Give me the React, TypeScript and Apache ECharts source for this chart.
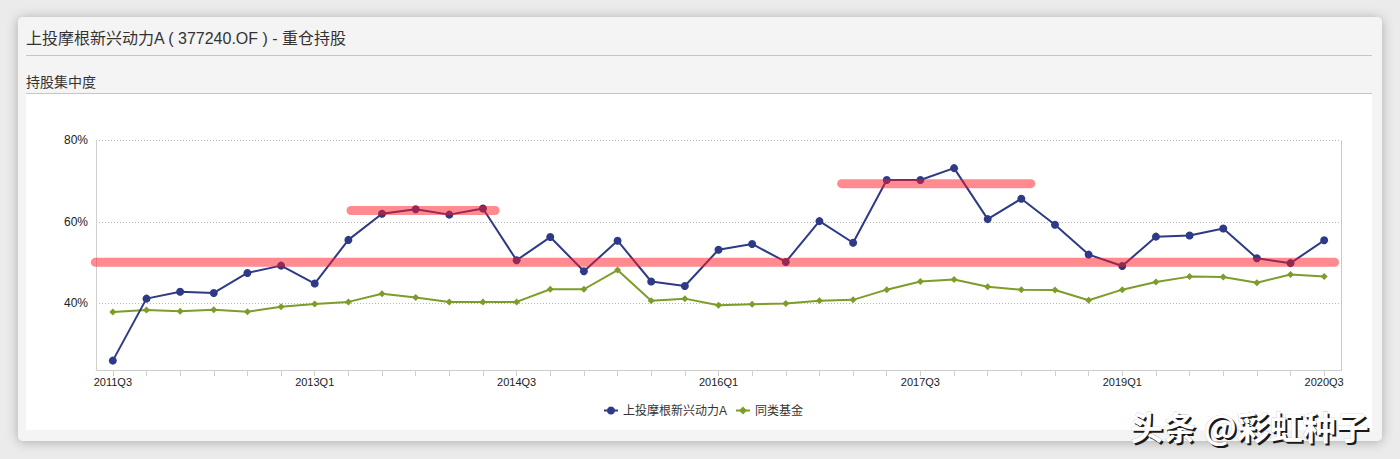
import React, { useEffect, useRef } from 'react';
import * as echarts from 'echarts';

const titleText = '上投摩根新兴动力A ( 377240.OF ) - 重仓持股';
const subtitleText = '持股集中度';
const watermarkText = '头条 @彩虹种子';

const fundName = '上投摩根新兴动力A';
const peerName = '同类基金';

const quarters = [
  '2011Q3', '2011Q4',
  '2012Q1', '2012Q2', '2012Q3', '2012Q4',
  '2013Q1', '2013Q2', '2013Q3', '2013Q4',
  '2014Q1', '2014Q2', '2014Q3', '2014Q4',
  '2015Q1', '2015Q2', '2015Q3', '2015Q4',
  '2016Q1', '2016Q2', '2016Q3', '2016Q4',
  '2017Q1', '2017Q2', '2017Q3', '2017Q4',
  '2018Q1', '2018Q2', '2018Q3', '2018Q4',
  '2019Q1', '2019Q2', '2019Q3', '2019Q4',
  '2020Q1', '2020Q2', '2020Q3',
];

const fundValues = [
  25.9, 41.1, 42.8, 42.5, 47.4, 49.2, 44.8, 55.5, 61.9, 63.0,
  61.7, 63.2, 50.5, 56.2, 47.8, 55.3, 45.3, 44.2, 53.1, 54.5,
  50.1, 60.1, 54.8, 70.2, 70.2, 73.1, 60.6, 65.6, 59.2, 51.9,
  49.1, 56.3, 56.6, 58.3, 51.0, 49.8, 55.4,
];

const peerValues = [
  37.8, 38.3, 38.0, 38.4, 37.9, 39.1, 39.8, 40.3, 42.3, 41.4,
  40.3, 40.3, 40.3, 43.4, 43.4, 48.1, 40.6, 41.1, 39.5, 39.7,
  39.9, 40.6, 40.8, 43.3, 45.3, 45.8, 44.0, 43.3, 43.2, 40.7,
  43.3, 45.2, 46.5, 46.4, 45.0, 47.0, 46.5,
];

const yTicks = [40, 60, 80];
const yMin = 23.6;
const yMax = 80;

// hand-drawn highlight bands (category index range, value)
const bandStart = [-0.52, 7.08, 21.66];
const bandEnd = [36.31, 11.36, 27.28];
const bandValue = [50.0, 62.7, 69.3];

const FONT = '"Liberation Sans", "Noto Sans CJK SC", sans-serif';
const BLUE = '#2e3a86';
const GREEN = '#7d9c2a';

export default function App() {
  const ref = useRef<HTMLDivElement>(null);

  useEffect(() => {
    if (!ref.current) return;
    const chart = echarts.init(ref.current, null, { renderer: 'svg' });
    chart.setOption({
      animation: false,
      backgroundColor: '#ebebeb',
      textStyle: { fontFamily: FONT },
      grid: { left: 96, right: 59, top: 140, bottom: 89, containLabel: false },
      legend: {
        left: 598,
        top: 399.5,
        itemWidth: 14,
        itemHeight: 10,
        itemGap: 8,
        data: [fundName, peerName],
        textStyle: { fontSize: 12, color: '#333', fontFamily: FONT },
      },
      xAxis: {
        type: 'category',
        data: quarters,
        boundaryGap: true,
        axisLine: { show: true, lineStyle: { color: '#cfcfcf', width: 1 } },
        axisTick: { show: true, alignWithLabel: true, interval: 0, length: 6, lineStyle: { color: '#cfcfcf' } },
        axisLabel: { interval: 5, fontSize: 11, color: '#222', margin: 6, fontFamily: FONT },
        splitLine: { show: false },
      },
      yAxis: [
        {
          type: 'value',
          min: yMin,
          max: yMax,
          axisLine: { show: true, lineStyle: { color: '#cfcfcf', width: 1 } },
          axisTick: { show: false },
          splitLine: { show: false },
          axisLabel: {
            customValues: yTicks,
            formatter: '{value}%',
            fontSize: 12,
            color: '#222',
            margin: 8,
            fontFamily: FONT,
          },
        },
        {
          type: 'value',
          min: yMin,
          max: yMax,
          position: 'right',
          axisLine: { show: true, lineStyle: { color: '#bdbdbd', width: 1, type: 'dotted' } },
          axisTick: { show: false },
          axisLabel: { show: false },
          splitLine: { show: false },
        },
      ],
      series: [
        {
          name: fundName,
          type: 'line',
          data: fundValues,
          symbol: 'circle',
          symbolSize: 8,
          itemStyle: { color: BLUE },
          lineStyle: { color: BLUE, width: 2 },
          z: 3,
        },
        {
          name: peerName,
          type: 'line',
          data: peerValues,
          symbol: 'diamond',
          symbolSize: 7,
          itemStyle: { color: GREEN },
          lineStyle: { color: GREEN, width: 2 },
          z: 2,
        },
      ],
    });

    const x0 = chart.convertToPixel({ xAxisIndex: 0 }, 0) as number;
    const x1 = chart.convertToPixel({ xAxisIndex: 0 }, 1) as number;
    const step = x1 - x0;
    const xAt = (f: number) => x0 + f * step;
    const yAt = (v: number) => chart.convertToPixel({ yAxisIndex: 0 }, v) as number;
    const plotLeft = xAt(-0.5);
    const plotRight = xAt(quarters.length - 0.5);

    const graphics: any[] = [
      {
        type: 'rect',
        z: -20,
        silent: true,
        shape: { x: 18, y: 17, width: 1364, height: 424, r: 5 },
        style: { fill: '#f4f4f4', shadowBlur: 12, shadowColor: 'rgba(0,0,0,0.28)', shadowOffsetY: 1 },
      },
      {
        type: 'rect',
        z: -19,
        silent: true,
        shape: { x: 26, y: 94, width: 1346, height: 336 },
        style: { fill: '#ffffff' },
      },
      {
        type: 'line',
        z: -18,
        silent: true,
        shape: { x1: 26, y1: 55.5, x2: 1372, y2: 55.5 },
        style: { stroke: '#c6c6c6', lineWidth: 1 },
      },
      {
        type: 'line',
        z: -18,
        silent: true,
        shape: { x1: 26, y1: 93.5, x2: 1372, y2: 93.5 },
        style: { stroke: '#c6c6c6', lineWidth: 1 },
      },
      {
        type: 'text',
        z: -17,
        silent: true,
        style: {
          text: titleText,
          x: 26,
          y: 38,
          fill: '#333',
          font: '16px ' + FONT,
          verticalAlign: 'middle',
          align: 'left',
        },
      },
      {
        type: 'text',
        z: -17,
        silent: true,
        style: {
          text: subtitleText,
          x: 26,
          y: 81.5,
          fill: '#333',
          font: '14px ' + FONT,
          verticalAlign: 'middle',
          align: 'left',
        },
      },
    ];

    yTicks.forEach((v) => {
      const y = Math.round(yAt(v)) + 0.5;
      graphics.push({
        type: 'line',
        z: -5,
        silent: true,
        shape: { x1: plotLeft, y1: y, x2: plotRight, y2: y },
        style: { stroke: '#b5b5b5', lineWidth: 1, lineDash: [1, 2] },
      });
    });

    bandValue.forEach((v, i) => {
      graphics.push({
        type: 'line',
        z: 50,
        silent: true,
        shape: { x1: xAt(bandStart[i]), y1: yAt(v), x2: xAt(bandEnd[i]), y2: yAt(v) },
        style: { stroke: 'rgba(255,22,34,0.5)', lineWidth: 9, lineCap: 'round' },
      });
    });

    graphics.push({
      type: 'text',
      z: 60,
      silent: true,
      style: {
        text: watermarkText,
        x: 1132,
        y: 428,
        fill: '#1a1a1a',
        font: 'bold 33px "Noto Sans CJK SC", sans-serif',
        verticalAlign: 'middle',
        align: 'left',
      },
    });
    graphics.push({
      type: 'text',
      z: 61,
      silent: true,
      style: {
        text: watermarkText,
        x: 1130,
        y: 426,
        fill: '#ffffff',
        stroke: 'rgba(0,0,0,0.3)',
        lineWidth: 0.6,
        font: 'bold 33px "Noto Sans CJK SC", sans-serif',
        verticalAlign: 'middle',
        align: 'left',
      },
    });

    chart.setOption({ graphic: graphics });

    return () => {
      chart.dispose();
    };
  }, []);

  return (
    <div
      ref={ref}
      style={{ position: 'fixed', left: 0, top: 0, width: 1400, height: 459 }}
    />
  );
}
